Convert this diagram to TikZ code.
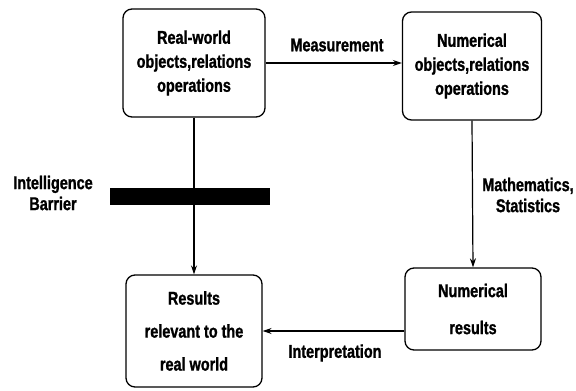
\documentclass[tikz,border=0pt]{standalone}
\usepackage{fontspec}
\setmainfont[FakeStretch=0.78,BoldFeatures={FakeBold=1.2}]{Liberation Sans}
\usetikzlibrary{arrows.meta}
\begin{document}
\begin{tikzpicture}[x=1pt,y=-1pt,
  box/.style={draw,line width=1.3pt,rounded corners=9pt,inner sep=0pt,align=center,
    font=\fontsize{18.5}{24}\selectfont\bfseries},
  lbl/.style={align=center,inner sep=0pt,font=\fontsize{18.5}{21}\selectfont\bfseries},
  arr/.style={line width=1.2pt,-{Stealth[length=9pt,width=6pt]}}]
\useasboundingbox (0,0) rectangle (576,391);
\node[box,minimum width=142pt,minimum height=108pt] (TL) at (194,63)
  {Real-world\\objects,relations\\operations};
\node[box,minimum width=139pt,minimum height=108pt] (TR) at (472,66)
  {Numerical\\objects,relations\\operations};
\node[box,minimum width=136pt,minimum height=82pt,font=\fontsize{18.5}{37}\selectfont\bfseries] (BR) at (473,309)
  {Numerical\\results};
\node[box,minimum width=136pt,minimum height=112pt,font=\fontsize{18.5}{33}\selectfont\bfseries] (BL) at (194,331)
  {Results\\relevant to the\\real world};
\draw[arr] (TL.east) -- (TL.east -| TR.west);
\node[lbl] (m) at (337,45) {Measurement};
\draw[arr] (TR.south) -- (BR.north);
\node[lbl] (ms) at (528,195) {Mathematics,\\Statistics};
\draw[arr] (BR.west |- BL.east) -- (BL.east);
\node[lbl] (ip) at (335,353) {Interpretation};
\draw[arr] (TL.south) -- (BL.north);
\node[fill=black,minimum width=160pt,minimum height=17pt,inner sep=0pt] (bar) at (190,196.5) {};
\node[lbl] (ib) at (53,193) {Intelligence\\Barrier};
\end{tikzpicture}
\end{document}
